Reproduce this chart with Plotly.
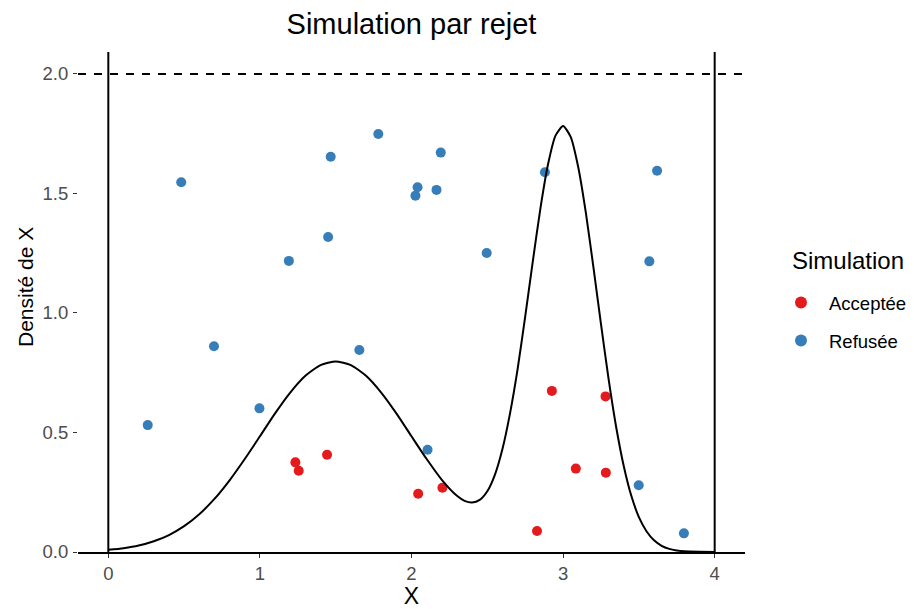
import plotly.graph_objects as go

# ---- data ----
curve_x = [0.0, 0.1, 0.2, 0.3, 0.4, 0.5, 0.6, 0.7, 0.8, 0.9,
           1.0, 1.1, 1.2, 1.3, 1.4, 1.5, 1.6, 1.7, 1.8, 1.9,
           2.0, 2.1, 2.2, 2.3, 2.35, 2.4, 2.45, 2.5, 2.55, 2.6, 2.65, 2.7, 2.75,
           2.8, 2.85, 2.9, 2.95, 3.0, 3.05, 3.1, 3.15, 3.2, 3.25, 3.3, 3.35,
           3.4, 3.45, 3.5, 3.55, 3.6, 3.65, 3.7, 3.75, 3.8, 3.9, 4.0]
curve_y = [0.009, 0.016, 0.027, 0.045, 0.071, 0.108, 0.158, 0.222, 0.300, 0.389,
           0.484, 0.580, 0.667, 0.737, 0.782, 0.797, 0.782, 0.737, 0.667, 0.580,
           0.484, 0.389, 0.302, 0.235, 0.214, 0.207, 0.218, 0.254, 0.323, 0.431, 0.580, 0.765, 0.985,
           1.215, 1.436, 1.620, 1.742, 1.782, 1.737, 1.610, 1.420, 1.192, 0.953, 0.724, 0.523,
           0.360, 0.235, 0.146, 0.087, 0.049, 0.026, 0.013, 0.0065, 0.003, 0.001, 0.0]

acc_x = [1.234, 1.256, 1.443, 2.044, 2.204, 2.828, 2.926, 3.084, 3.280, 3.282]
acc_y = [0.375, 0.340, 0.407, 0.244, 0.269, 0.088, 0.674, 0.349, 0.651, 0.332]

ref_x = [0.260, 0.481, 0.697, 0.997, 1.191, 1.450, 1.467, 1.656, 1.781, 2.026,
         2.040, 2.106, 2.165, 2.193, 2.496, 2.880, 3.499, 3.569, 3.620, 3.797]
ref_y = [0.531, 1.547, 0.861, 0.601, 1.218, 1.318, 1.654, 0.845, 1.749, 1.491,
         1.526, 0.428, 1.515, 1.671, 1.251, 1.589, 0.279, 1.216, 1.595, 0.078]

envelope_M = 2.0
support = [0.0, 4.0]
x_ticks = [0, 1, 2, 3, 4]
y_ticks = [0.0, 0.5, 1.0, 1.5, 2.0]
y_tick_labels = ["0.0", "0.5", "1.0", "1.5", "2.0"]

FONT = "Liberation Sans, Arial, Helvetica, sans-serif"

# The page body has an 8px default margin, so the figure is drawn at (8, 8)
OFF = 8
VW, VH = 914, 609
W, H = VW - OFF, VH - OFF
# plot area in viewport pixels: x 78..745, y 52..552
PL, PR, PT, PB = 78, 745, 52, 552
ML, MT = PL - OFF, PT - OFF
MR, MB = W - (PR - OFF), H - (PB - OFF)
PW, PH = PR - PL, PB - PT


def px_to_paper(px, py):
    return (px - PL) / PW, (PB - py) / PH


fig = go.Figure()
fig.add_trace(go.Scatter(x=acc_x, y=acc_y, mode="markers", name="Acceptée",
                         legendgroup="a",
                         marker=dict(color="#E41A1C", size=10, line=dict(width=0))))
fig.add_trace(go.Scatter(x=ref_x, y=ref_y, mode="markers", name="Refusée",
                         legendgroup="r",
                         marker=dict(color="#377EB8", size=10, line=dict(width=0))))
fig.add_trace(go.Scatter(x=curve_x, y=curve_y, mode="lines", showlegend=False,
                         line=dict(color="black", width=2, shape="spline", smoothing=0.6),
                         hoverinfo="skip"))

# envelope line y = M
fig.add_shape(type="line", xref="x domain", yref="y", x0=0, x1=1,
              y0=envelope_M, y1=envelope_M,
              line=dict(color="black", width=1.8, dash="8px,8px"))
# support bounds
for xv in support:
    fig.add_shape(type="line", xref="x", yref="y domain", x0=xv, x1=xv, y0=0, y1=1,
                  line=dict(color="black", width=2))

lt_x, lt_y = px_to_paper(790, 260)
yt_x, yt_y = px_to_paper(25, 287)
lg_x, lg_y = px_to_paper(773, 284)

fig.add_annotation(text="Simulation", xref="paper", yref="paper", x=lt_x, y=lt_y,
                   xanchor="left", yanchor="middle", showarrow=False,
                   font=dict(size=24, color="black", family=FONT))
fig.add_annotation(text="Densité de X", xref="paper", yref="paper", x=yt_x, y=yt_y,
                   xanchor="center", yanchor="middle", textangle=-90, showarrow=False,
                   font=dict(size=21, color="black", family=FONT))

fig.update_layout(
    width=W, height=H,
    margin=dict(l=ML, r=MR, t=MT, b=MB, autoexpand=False),
    paper_bgcolor="white", plot_bgcolor="white",
    font=dict(family=FONT, color="black"),
    title=dict(text="Simulation par rejet", x=0.5, xref="paper", xanchor="center",
               y=1 - (24 - OFF) / H, yref="container", yanchor="middle",
               font=dict(size=29, color="black", family=FONT)),
    legend=dict(font=dict(size=18.5, family=FONT, color="black"),
                x=lg_x, xanchor="left", y=lg_y, yanchor="top",
                tracegroupgap=11, itemwidth=46, itemsizing="constant",
                bgcolor="rgba(0,0,0,0)"),
    showlegend=True,
)

fig.update_xaxes(range=[-0.2, 4.2], tickvals=x_ticks, ticktext=[str(t) for t in x_ticks],
                 showline=True, linecolor="black", linewidth=1.8,
                 ticks="outside", ticklen=4, tickwidth=1.2, tickcolor="#333333",
                 showgrid=False, zeroline=False, automargin=False,
                 tickfont=dict(size=18.5, color="#4D4D4D", family=FONT),
                 title=dict(text="X", font=dict(size=23, color="black", family=FONT), standoff=4))
fig.update_yaxes(range=[0, 2.092], tickvals=y_ticks, ticktext=y_tick_labels,
                 showline=False,
                 ticks="outside", ticklen=4, tickwidth=1.2, tickcolor="#333333",
                 showgrid=False, zeroline=False, automargin=False,
                 tickfont=dict(size=18.5, color="#4D4D4D", family=FONT),
                 ticklabelstandoff=1)

fig.write_html("out.html")
